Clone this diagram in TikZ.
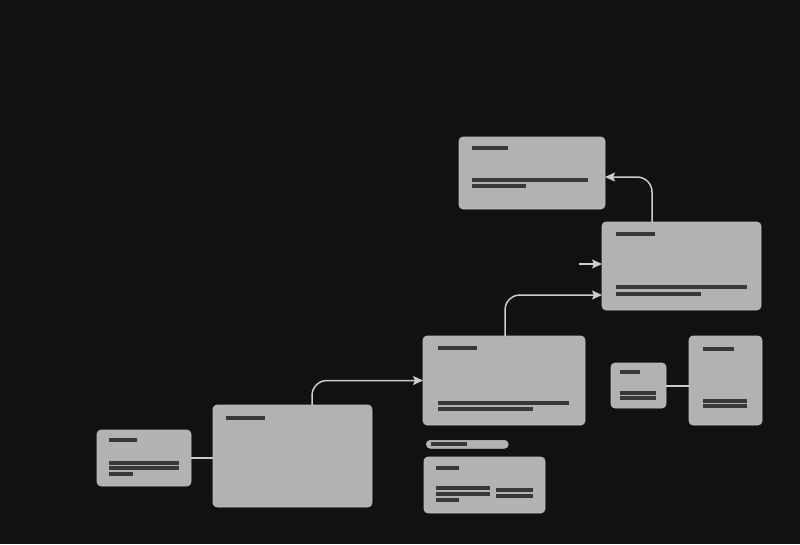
\documentclass[tikz,border=0pt]{standalone}
\usetikzlibrary{calc,arrows.meta}
\definecolor{bg}{HTML}{111111}
\definecolor{boxfill}{HTML}{B2B2B2}
\definecolor{boxedge}{HTML}{BDBDBD}
\definecolor{barcol}{HTML}{383838}
\definecolor{wirecol}{HTML}{CDCDCD}
\tikzset{
  card/.style={draw=boxedge, line width=0.6pt, fill=boxfill, rounded corners=4pt,
    inner sep=0pt, outer sep=0pt, anchor=north west},
  bar/.style={draw=barcol, line width=3.2pt},
  wire/.style={draw=wirecol, line width=1.5pt, rounded corners=15pt},
  arr/.style={wire, -{Stealth[length=10pt,width=9pt,inset=2pt]}},
  pill/.style={fill=boxfill, draw=boxedge, line width=0.6pt, rounded corners=4pt, inner sep=0pt, anchor=north west}
}
\begin{document}
\begin{tikzpicture}[x=1pt,y=-1pt]
\useasboundingbox (0,0) rectangle (800,544);
\fill[bg] (0,0) rectangle (800,544);

% cards
\node[card, minimum width=146pt, minimum height=72pt] (A) at (459,137) {};
\node[card, minimum width=159pt, minimum height=88pt] (B) at (602,222) {};
\node[card, minimum width=162pt, minimum height=89pt] (C) at (423,336) {};
\node[card, minimum width=121pt, minimum height=56pt] (D) at (424,457) {};
\node[card, minimum width=55pt, minimum height=45pt] (E) at (611,363) {};
\node[card, minimum width=73pt, minimum height=89pt] (F) at (689,336) {};
\node[card, minimum width=94pt, minimum height=56pt] (G) at (97,430) {};
\node[card, minimum width=159pt, minimum height=102pt] (H) at (213,405) {};
\node[pill, minimum width=82pt, minimum height=8pt] (P) at (426,440) {};

% placeholder bars
% A
\draw[bar] (472,148) -- (508,148);
\draw[bar] (472,180) -- (588,180);
\draw[bar] (472,186) -- (526,186);
% B
\draw[bar] (616,234) -- (655,234);
\draw[bar] (616,287) -- (747,287);
\draw[bar] (616,294) -- (701,294);
% C
\draw[bar] (438,348) -- (477,348);
\draw[bar] (438,403) -- (569,403);
\draw[bar] (438,409) -- (533,409);
% progress
\draw[bar, line width=3.6pt] (431,444) -- (467,444);
% D
\draw[bar] (436,468) -- (459,468);
\draw[bar] (436,488) -- (490,488);
\draw[bar] (436,494) -- (490,494);
\draw[bar] (436,500) -- (459,500);
\draw[bar] (496,490) -- (533,490);
\draw[bar] (496,496) -- (533,496);
% E
\draw[bar] (620,372) -- (640,372);
\draw[bar] (620,393) -- (656,393);
\draw[bar] (620,398) -- (656,398);
% F
\draw[bar] (703,349) -- (734,349);
\draw[bar] (703,401) -- (747,401);
\draw[bar] (703,406) -- (747,406);
% G
\draw[bar] (109,440) -- (137,440);
\draw[bar] (109,463) -- (179,463);
\draw[bar] (109,468) -- (179,468);
\draw[bar] (109,474) -- (133,474);
% H
\draw[bar] (226,418) -- (265,418);

% connectors
\draw[arr] ([xshift=50pt]B.north west) |- ([yshift=-4pt]A.east);
\coordinate (stub) at (579,264);
\draw[arr, rounded corners=0pt] (stub) -- (stub -| B.west);
\draw[arr] ([xshift=82pt]C.north west) |- ([yshift=-29pt]B.west);
\draw[arr] ([xshift=99pt]H.north west) |- (C.west);
\draw[wire] (G.east |- 0,458) -- (H.west |- 0,458);
\draw[wire] (E.east |- 0,386) -- (F.west |- 0,386);
\end{tikzpicture}
\end{document}
